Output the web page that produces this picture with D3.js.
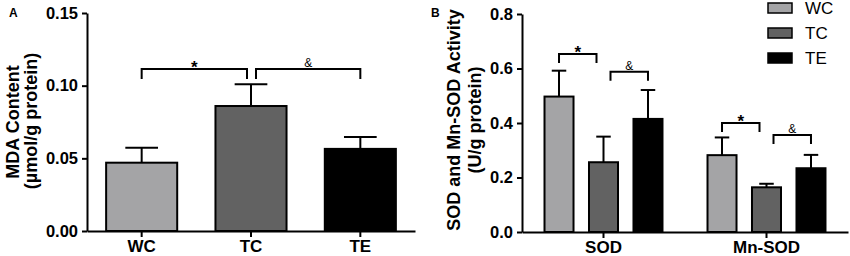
<!DOCTYPE html>
<html>
<head>
<meta charset="utf-8">
<script src="https://cdn.jsdelivr.net/npm/d3@7"></script>
<style>
  body { margin: 0; background: #fff; }
  svg { display: block; font-family: "Liberation Sans", Arial, Helvetica, sans-serif; }
</style>
</head>
<body>
<svg id="chart" width="850" height="256"></svg>
<script>
// ---------- DATA ----------
const groups = ["WC", "TC", "TE"];
const groupColors = ["#a4a4a6", "#626262", "#000000"];

// Panel A: MDA content
const mdaMean = [0.047, 0.086, 0.0565];
const mdaErr  = [0.0102, 0.015, 0.0082];
const mdaTicks = [0.00, 0.05, 0.10, 0.15];
const mdaBrackets = [
  { from: "WC", to: "TC", level: 0.1115, label: "*" },
  { from: "TC", to: "TE", level: 0.1115, label: "&" }
];

// Panel B: SOD and Mn-SOD activity
const enzymes = ["SOD", "Mn-SOD"];
const sodMean = [0.497, 0.256, 0.415];
const sodErr  = [0.095, 0.094, 0.106];
const mnsodMean = [0.282, 0.164, 0.234];
const mnsodErr  = [0.065, 0.013, 0.049];
const activityTicks = [0.0, 0.2, 0.4, 0.6, 0.8];
const activityBrackets = [
  { enzyme: "SOD",    from: "WC", to: "TC", level: 0.653, label: "*" },
  { enzyme: "SOD",    from: "TC", to: "TE", level: 0.588, label: "&" },
  { enzyme: "Mn-SOD", from: "WC", to: "TC", level: 0.400, label: "*" },
  { enzyme: "Mn-SOD", from: "TC", to: "TE", level: 0.356, label: "&" }
];

// ---------- DRAW ----------
const svg = d3.select("#chart");
const color = d3.scaleOrdinal().domain(groups).range(groupColors);

function styleAxis(g) {
  g.selectAll("path.domain").attr("stroke", "#000").attr("stroke-width", 2);
  g.selectAll(".tick line").attr("stroke", "#000").attr("stroke-width", 2);
  g.selectAll(".tick text").attr("fill", "#000").style("font-weight", "bold")
    .style("font-size", "16.5px").style("font-family", "'Liberation Sans', Arial, sans-serif");
}

function drawBracket(g, x1, x2, yv, drop, label) {
  g.append("path")
    .attr("d", `M${x1},${yv + drop}V${yv}H${x2}V${yv + drop}`)
    .attr("fill", "none").attr("stroke", "#000").attr("stroke-width", 2);
  const t = g.append("text")
    .attr("x", (x1 + x2) / 2)
    .attr("text-anchor", "middle")
    .attr("fill", "#000")
    .text(label);
  if (label === "*") {
    t.attr("y", yv + 4).style("font-size", "17px").style("font-weight", "bold");
  } else {
    t.attr("y", yv - 2).style("font-size", "12px");
  }
}

// ===== Panel A =====
{
  const g = svg.append("g");
  const y = d3.scaleLinear().domain([0, 0.15]).range([231, 13]);
  const x = d3.scaleBand().domain(groups).range([87, 415]).paddingInner(0.35).paddingOuter(0.175);

  const data = groups.map((k, i) => ({ k, m: mdaMean[i], e: mdaErr[i] }));
  const capW = x.bandwidth() * 0.46;
  data.forEach(d => {
    const cx = x(d.k) + x.bandwidth() / 2;
    g.append("line").attr("x1", cx).attr("x2", cx).attr("y1", y(d.m)).attr("y2", y(d.m + d.e))
      .attr("stroke", "#000").attr("stroke-width", 2);
    g.append("line").attr("x1", cx - capW / 2).attr("x2", cx + capW / 2)
      .attr("y1", y(d.m + d.e)).attr("y2", y(d.m + d.e))
      .attr("stroke", "#000").attr("stroke-width", 2);
  });
  g.selectAll("rect.bar").data(data).join("rect").attr("class", "bar")
    .attr("x", d => x(d.k)).attr("width", x.bandwidth())
    .attr("y", d => y(d.m)).attr("height", d => y(0) - y(d.m))
    .attr("fill", d => color(d.k)).attr("stroke", "#000").attr("stroke-width", 2);

  const ya = g.append("g").attr("transform", "translate(87,0)")
    .call(d3.axisLeft(y).tickValues(mdaTicks).tickFormat(d3.format(".2f")).tickSize(5).tickSizeOuter(0).tickPadding(4));
  styleAxis(ya);
  const xa = g.append("g").attr("transform", "translate(0,231)")
    .call(d3.axisBottom(x).tickSize(6).tickSizeOuter(0).tickPadding(3));
  styleAxis(xa);
  xa.selectAll(".tick text").style("font-size", "17px");

  const cx = k => x(k) + x.bandwidth() / 2;
  mdaBrackets.forEach(b => {
    let x1 = cx(b.from), x2 = cx(b.to);
    if (b.from === "TC") x1 += 5;
    if (b.to === "TC") x2 -= 4;
    drawBracket(g, x1, x2, y(b.level), 10, b.label);
  });

  g.append("text").attr("transform", "translate(19,122) rotate(-90)")
    .attr("text-anchor", "middle").style("font-size", "18px").style("font-weight", "bold")
    .text("MDA Content");
  g.append("text").attr("transform", "translate(37,121) rotate(-90)")
    .attr("text-anchor", "middle").style("font-size", "18px").style("font-weight", "bold")
    .text("(µmol/g protein)");
  g.append("text").attr("x", 9).attr("y", 17).style("font-size", "12px").style("font-weight", "bold").text("A");
}

// ===== Panel B =====
{
  const g = svg.append("g");
  const y = d3.scaleLinear().domain([0, 0.8]).range([232, 14]);
  const x0 = d3.scaleBand().domain(enzymes).range([522, 848]).paddingInner(0).paddingOuter(0);
  const x1 = d3.scaleBand().domain(groups).range([0, x0.bandwidth()]).paddingInner(0.348).paddingOuter(0.506);

  const data = [];
  groups.forEach((k, i) => {
    data.push({ en: "SOD", k, m: sodMean[i], e: sodErr[i] });
    data.push({ en: "Mn-SOD", k, m: mnsodMean[i], e: mnsodErr[i] });
  });
  const bx = d => x0(d.en) + x1(d.k);
  const capW = x1.bandwidth() * 0.5;
  data.forEach(d => {
    const cx = bx(d) + x1.bandwidth() / 2;
    g.append("line").attr("x1", cx).attr("x2", cx).attr("y1", y(d.m)).attr("y2", y(d.m + d.e))
      .attr("stroke", "#000").attr("stroke-width", 2);
    g.append("line").attr("x1", cx - capW / 2).attr("x2", cx + capW / 2)
      .attr("y1", y(d.m + d.e)).attr("y2", y(d.m + d.e))
      .attr("stroke", "#000").attr("stroke-width", 2);
  });
  g.selectAll("rect.bar").data(data).join("rect").attr("class", "bar")
    .attr("x", bx).attr("width", x1.bandwidth())
    .attr("y", d => y(d.m)).attr("height", d => y(0) - y(d.m))
    .attr("fill", d => color(d.k)).attr("stroke", "#000").attr("stroke-width", 2);

  const ya = g.append("g").attr("transform", "translate(522,0)")
    .call(d3.axisLeft(y).tickValues(activityTicks).tickFormat(d3.format(".1f")).tickSize(5).tickSizeOuter(0).tickPadding(4));
  styleAxis(ya);
  const xa = g.append("g").attr("transform", "translate(0,232)")
    .call(d3.axisBottom(x0).tickSize(6).tickSizeOuter(0).tickPadding(3));
  styleAxis(xa);
  xa.selectAll(".tick text").style("font-size", "17px");

  const cx = (en, k) => x0(en) + x1(k) + x1.bandwidth() / 2;
  activityBrackets.forEach(b => {
    let xa1 = cx(b.enzyme, b.from), xa2 = cx(b.enzyme, b.to);
    if (b.from === "TC") xa1 += 7;
    if (b.to === "TC") xa2 -= 7;
    drawBracket(g, xa1, xa2, y(b.level), 9, b.label);
  });

  g.append("text").attr("transform", "translate(460,120) rotate(-90)")
    .attr("text-anchor", "middle").style("font-size", "18px").style("font-weight", "bold")
    .text("SOD and Mn-SOD Activity");
  g.append("text").attr("transform", "translate(481,120) rotate(-90)")
    .attr("text-anchor", "middle").style("font-size", "18px").style("font-weight", "bold")
    .text("(U/g protein)");
  g.append("text").attr("x", 431).attr("y", 17).style("font-size", "12px").style("font-weight", "bold").text("B");

  const lg = g.append("g").attr("transform", "translate(768,3)");
  groups.forEach((k, i) => {
    const row = lg.append("g").attr("transform", `translate(0,${i * 25})`);
    row.append("rect").attr("x", 0).attr("y", 0).attr("width", 24).attr("height", 10)
      .attr("fill", color(k)).attr("stroke", "#000").attr("stroke-width", 1.5);
    row.append("text").attr("x", 37).attr("y", 5).attr("dy", "0.36em")
      .style("font-size", "17px").attr("fill", "#000").text(k);
  });
}
</script>
</body>
</html>
